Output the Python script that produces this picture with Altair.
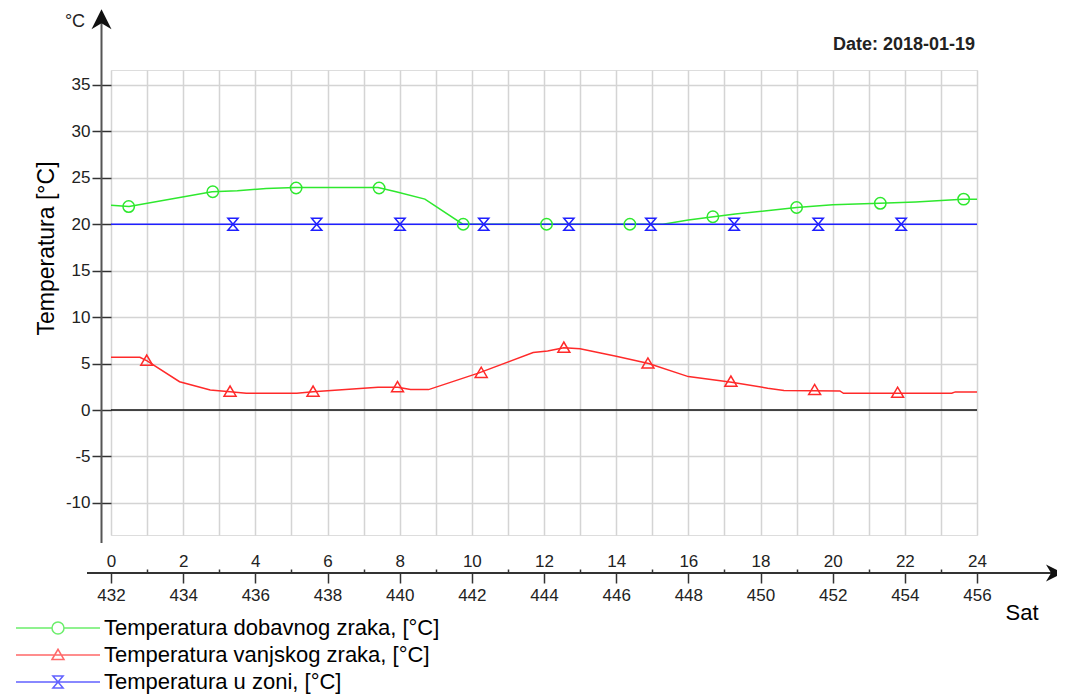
import altair as alt
import pandas as pd

FONT = "Liberation Sans"

names = ["Temperatura dobavnog zraka, [°C]",
         "Temperatura vanjskog zraka, [°C]",
         "Temperatura u zoni, [°C]"]
colors = ["#2ee82e", "#ff2a2a", "#1f1fff"]
date_label = "Date: 2018-01-19"

# supply air (green) line vertices: hour, temperature
supply_h = [0, 0.5, 2.8, 3.5, 4.3, 5.1, 7.4, 7.9, 8.7, 9.75, 15.3, 16.0, 16.7, 17.3, 19.0, 20.0, 21.3, 22.3, 23.6, 24]
supply_t = [22.05, 21.9, 23.5, 23.6, 23.85, 23.95, 23.95, 23.5, 22.7, 20.0, 20.0, 20.45, 20.8, 21.1, 21.8, 22.1, 22.25, 22.4, 22.7, 22.7]
supply_mh = [0.49, 2.82, 5.13, 7.43, 9.76, 12.07, 14.38, 16.68, 19.0, 21.32, 23.63]
supply_mt = [21.9, 23.5, 23.9, 23.9, 20.0, 20.0, 20.0, 20.8, 21.8, 22.25, 22.7]

# outdoor air (red)
out_h = [0, 0.8, 1.0, 1.9, 2.75, 3.3, 3.75, 5.15, 5.6, 6.5, 7.4, 7.95, 8.3, 8.8, 10.2, 11.7, 12.1, 12.55, 13.0, 14.0, 14.9, 16.0, 17.2, 18.2, 18.65, 20.2, 20.3, 23.3, 23.4, 24]
out_t = [5.67, 5.67, 5.3, 3.05, 2.15, 1.97, 1.8, 1.8, 1.97, 2.2, 2.45, 2.45, 2.2, 2.2, 4.0, 6.2, 6.35, 6.7, 6.6, 5.8, 5.0, 3.6, 3.0, 2.35, 2.1, 2.05, 1.8, 1.8, 1.95, 1.95]
out_mh = [0.99, 3.3, 5.6, 7.94, 10.26, 12.55, 14.88, 17.18, 19.5, 21.8]
out_mt = [5.3, 1.97, 1.97, 2.45, 4.0, 6.7, 5.0, 3.05, 2.15, 1.85]

# zone (blue)
zone_h = [0, 24]
zone_t = [20.0, 20.0]
zone_mh = [3.38, 5.7, 8.01, 10.33, 12.69, 14.96, 17.27, 19.6, 21.9]
zone_mt = [20.0] * 9

x_even = list(range(0, 25, 2))
x_odd = list(range(1, 24, 2))
y_ticks = list(range(-10, 40, 5))

W, H = 866, 465
xs = alt.Scale(domain=[0, 24], nice=False, zero=False)
ys = alt.Scale(domain=[-13.45, 36.6], nice=False, zero=False)

yaxis = alt.Axis(values=y_ticks, grid=True, gridColor="#d4d4d4", gridWidth=1.5,
                 domain=False, tickSize=19, tickColor="#333", tickWidth=1.5,
                 labelFont=FONT, labelFontSize=17, labelColor="#222", labelPadding=2,
                 labelExpr="'' + datum.value",
                 title="Temperatura [°C]", titleFont=FONT, titleFontSize=23,
                 titleFontWeight="normal", titleColor="#000", titleX=-65, titleY=178,
                 titleBaseline="middle", titleAlign="center")

gridX = alt.Axis(orient="bottom", values=list(range(25)), grid=True, gridColor="#d4d4d4",
                 gridWidth=1.5, labels=False, ticks=False, domain=False, title=None)
topLabels = alt.Axis(orient="top", offset=-(H + 38), values=x_even, grid=False, ticks=False,
                     tickSize=0, domain=False, labelFont=FONT, labelFontSize=17,
                     labelColor="#222", labelPadding=3, labelFlush=False, labelOverlap=False,
                     title=None)
topTicks = alt.Axis(orient="top", offset=-(H + 38), values=x_odd, grid=False, ticks=True,
                    tickSize=4, tickWidth=1.5, tickColor="#333", labels=False, domain=False,
                    title=None)
bottomLabels = alt.Axis(orient="bottom", offset=38, values=x_even, grid=False, ticks=True,
                        tickSize=10, tickWidth=1.5, tickColor="#333", domain=False,
                        labelExpr="datum.value + 432", labelFont=FONT, labelFontSize=17,
                        labelColor="#222", labelPadding=4, labelFlush=False,
                        labelOverlap=False, title=None)

def df(h, t):
    return pd.DataFrame({"h": h, "t": t})

def line(h, t, color, axis):
    return alt.Chart(df(h, t)).mark_line(color=color, strokeWidth=1.5).encode(
        x=alt.X("h:Q", scale=xs, axis=axis), y=alt.Y("t:Q", scale=ys, axis=yaxis))

def markers(h, t, color, shape, size, axis=None):
    return alt.Chart(df(h, t)).mark_point(color=color, shape=shape, size=size, filled=False,
                                          strokeWidth=1.5, opacity=1).encode(
        x=alt.X("h:Q", scale=xs, axis=axis), y=alt.Y("t:Q", scale=ys, axis=yaxis))

zero_rule = alt.Chart(pd.DataFrame({"t": [0]})).mark_rule(color="#111", strokeWidth=1.5).encode(
    y=alt.Y("t:Q", scale=ys, axis=yaxis))

tri_m = "M -1 0.75 L 0 -0.95 L 1 0.75 Z"
hg_m = "M -0.85 -1 L 0.85 -1 L -0.85 1 L 0.85 1 Z"

l_green = line(supply_h, supply_t, colors[0], gridX)
l_red = line(out_h, out_t, colors[1], topLabels)
l_blue = line(zone_h, zone_t, colors[2], topTicks)
m_green = markers(supply_mh, supply_mt, colors[0], "circle", 130, bottomLabels)
m_red = markers(out_mh, out_mt, colors[1], tri_m, 144)
m_blue = markers(zone_mh, zone_mt, colors[2], hg_m, 144)

one = pd.DataFrame({"a": [0]})
xline = alt.Chart(one).mark_rule(color="#333", strokeWidth=2).encode(
    x=alt.value(-24), x2=alt.value(945), y=alt.value(H + 38))
yline = alt.Chart(one).mark_rule(color="#555", strokeWidth=2).encode(
    x=alt.value(-9.5), y=alt.value(-58), y2=alt.value(H + 8))
xarrow = alt.Chart(one).mark_point(shape="M -1 -1 L 1 0 L -1 1 L -0.4 0 Z", filled=True,
                                   size=289, color="#111", opacity=1).encode(
    x=alt.value(943.5), y=alt.value(H + 38))
yarrow = alt.Chart(one).mark_point(shape="M -1 1 L 0 -1 L 1 1 L 0 0.4 Z", filled=True,
                                   size=400, color="#111", opacity=1).encode(
    x=alt.value(-9.5), y=alt.value(-50.7))
unit_c = alt.Chart(one).mark_text(font=FONT, fontSize=18, color="#222", align="center",
                                  baseline="middle").encode(
    x=alt.value(-36), y=alt.value(-48), text=alt.value("°C"))
sat = alt.Chart(one).mark_text(font=FONT, fontSize=22, color="#000", align="center",
                               baseline="middle").encode(
    x=alt.value(911), y=alt.value(543), text=alt.value("Sat"))
date_txt = alt.Chart(one).mark_text(font=FONT, fontSize=18, fontWeight="bold", color="#222",
                                    align="right", baseline="alphabetic").encode(
    x=alt.value(864), y=alt.value(-20), text=alt.value(date_label))

leg_paths = [
    "M -7 0 L -1 0 M 1 0 L 7 0 M 1 0 A 1 1 0 1 1 -1 0 A 1 1 0 1 1 1 0",
    "M -7 0 L 7 0 M -1 0.75 L 0 -0.95 L 1 0.75 Z",
    "M -7 0 L 7 0 M -0.85 -1 L 0.85 -1 L -0.85 1 L 0.85 1 Z",
]
leg = alt.Legend(title=None, orient="none", legendX=-64, legendY=547, labelFont=FONT,
                 labelFontSize=22, labelColor="#000", labelLimit=600, labelOffset=35,
                 symbolSize=144, symbolStrokeWidth=1.5, symbolFillColor="transparent",
                 rowPadding=5, padding=0)
legend_layer = alt.Chart(pd.DataFrame({"s": names})).mark_point(filled=False, strokeWidth=1.5).encode(
    color=alt.Color("s:N", scale=alt.Scale(domain=names, range=colors), legend=leg),
    shape=alt.Shape("s:N", scale=alt.Scale(domain=names, range=leg_paths), legend=leg),
).transform_filter("false")

chart = alt.layer(
    zero_rule, l_green, l_red, l_blue, m_green, m_red, m_blue,
    xline, yline, xarrow, yarrow, unit_c, sat, date_txt, legend_layer
).resolve_axis(x="independent").properties(
    width=W, height=H,
    autosize=alt.AutoSizeParams(type="none"),
    padding={"left": 103, "top": 62, "right": 80, "bottom": 160},
).configure_view(stroke="#c4c4c4", strokeWidth=2).configure(background="white")

chart.save("out.html", embed_options={"renderer": "svg", "actions": False})
